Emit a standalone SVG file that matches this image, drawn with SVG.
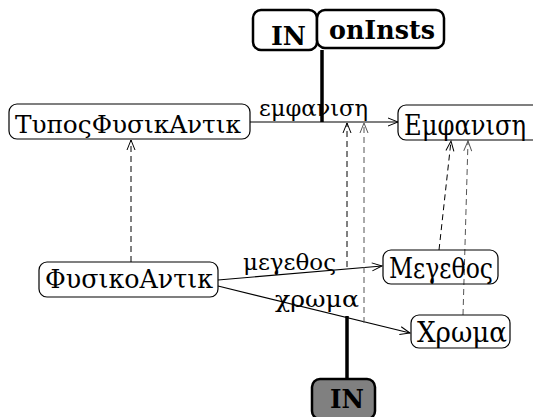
<svg xmlns="http://www.w3.org/2000/svg" width="533" height="417" viewBox="0 0 533 417">
  <style>
    .box { fill: none; stroke: #000; stroke-width: 1.2; }
    .tag { fill: #fff; stroke: #000; stroke-width: 2.5; }
    .tag-dark { fill: #808080; stroke: #000; stroke-width: 2.5; }
    .greek { font-family: "DejaVu Serif", "Liberation Serif", serif; fill: #000; }
    .kw { font-family: "DejaVu Serif", "Liberation Serif", serif; font-size: 26px; font-weight: bold; fill: #000; }
    .edge { fill: none; stroke: #000; stroke-width: 1.2; }
    .dep { fill: none; stroke: #000; stroke-width: 1; stroke-dasharray: 6 4; }
    .dep-g { fill: none; stroke: #555; stroke-width: 1; stroke-dasharray: 6 4; }
    .bar { fill: none; stroke: #000; stroke-width: 3.5; }
  </style>
  <defs>
    <marker id="open" viewBox="0 0 12 10" refX="11" refY="5" markerWidth="12" markerHeight="10" markerUnits="userSpaceOnUse" orient="auto">
      <path d="M1,1 L11,5 L1,9" fill="none" stroke="#000" stroke-width="1"/>
    </marker>
    <marker id="open-g" viewBox="0 0 12 10" refX="11" refY="5" markerWidth="12" markerHeight="10" markerUnits="userSpaceOnUse" orient="auto">
      <path d="M1,1 L11,5 L1,9" fill="none" stroke="#555" stroke-width="1"/>
    </marker>
  </defs>

  <!-- connectors -->
  <g id="connectors">
    <line class="edge" x1="250" y1="122" x2="398" y2="122" marker-end="url(#open)"/>
    <line class="edge" x1="218" y1="280" x2="382" y2="266" marker-end="url(#open)"/>
    <line class="edge" x1="218" y1="286" x2="410" y2="333" marker-end="url(#open)"/>
    <line class="dep" x1="131" y1="262" x2="131" y2="140" marker-end="url(#open)"/>
    <line class="dep" x1="347" y1="267" x2="347" y2="123" marker-end="url(#open)"/>
    <line class="dep-g" x1="364" y1="323" x2="364" y2="123" marker-end="url(#open-g)"/>
    <line class="dep" x1="439" y1="250" x2="451" y2="141" marker-end="url(#open)"/>
    <line class="dep-g" x1="463" y1="315" x2="468" y2="141" marker-end="url(#open-g)"/>
    <line class="bar" x1="322" y1="50" x2="322" y2="122"/>
    <line class="bar" x1="347" y1="316" x2="347" y2="379"/>
    <text class="greek" font-size="23" x="259" y="116" textLength="109" lengthAdjust="spacingAndGlyphs">εμφανιση</text>
    <text class="greek" font-size="23" x="243" y="270" textLength="93" lengthAdjust="spacingAndGlyphs">μεγεθος</text>
    <text class="greek" font-size="23" x="275" y="307" textLength="84" lengthAdjust="spacingAndGlyphs">χρωμα</text>
  </g>

  <g id="n-typos">
    <rect class="box" x="9" y="104" width="241" height="35" rx="8"/>
    <text class="greek" font-size="25" x="15" y="133" textLength="226" lengthAdjust="spacingAndGlyphs">ΤυποςΦυσικΑντικ</text>
  </g>
  <g id="n-emfanisi">
    <rect class="box" x="398" y="105" width="150" height="35" rx="8"/>
    <text class="greek" font-size="28" x="404" y="135" textLength="122" lengthAdjust="spacingAndGlyphs">Εμφανιση</text>
  </g>
  <g id="n-fysiko">
    <rect class="box" x="39" y="262" width="179" height="35" rx="8"/>
    <text class="greek" font-size="26" x="45" y="288" textLength="168" lengthAdjust="spacingAndGlyphs">ΦυσικοΑντικ</text>
  </g>
  <g id="n-megethos">
    <rect class="box" x="383" y="250" width="115" height="34" rx="8"/>
    <text class="greek" font-size="28" x="389" y="278" textLength="104" lengthAdjust="spacingAndGlyphs">Μεγεθος</text>
  </g>
  <g id="n-xroma">
    <rect class="box" x="411" y="315" width="99" height="33" rx="8"/>
    <text class="greek" font-size="28" x="417" y="342" textLength="90" lengthAdjust="spacingAndGlyphs">Χρωμα</text>
  </g>
  <g id="n-in-top">
    <rect class="tag" x="253" y="10" width="64" height="40" rx="8"/>
    <text class="kw" x="271" y="45" textLength="35" lengthAdjust="spacingAndGlyphs">IN</text>
  </g>
  <g id="n-oninsts">
    <rect class="tag" x="317" y="10" width="127" height="38" rx="8"/>
    <text class="kw" x="329" y="39" textLength="106" lengthAdjust="spacingAndGlyphs">onInsts</text>
  </g>
  <g id="n-in-bottom">
    <rect class="tag-dark" x="312" y="379" width="63" height="40" rx="8"/>
    <text class="kw" x="330" y="408" textLength="34" lengthAdjust="spacingAndGlyphs">IN</text>
  </g>
</svg>
